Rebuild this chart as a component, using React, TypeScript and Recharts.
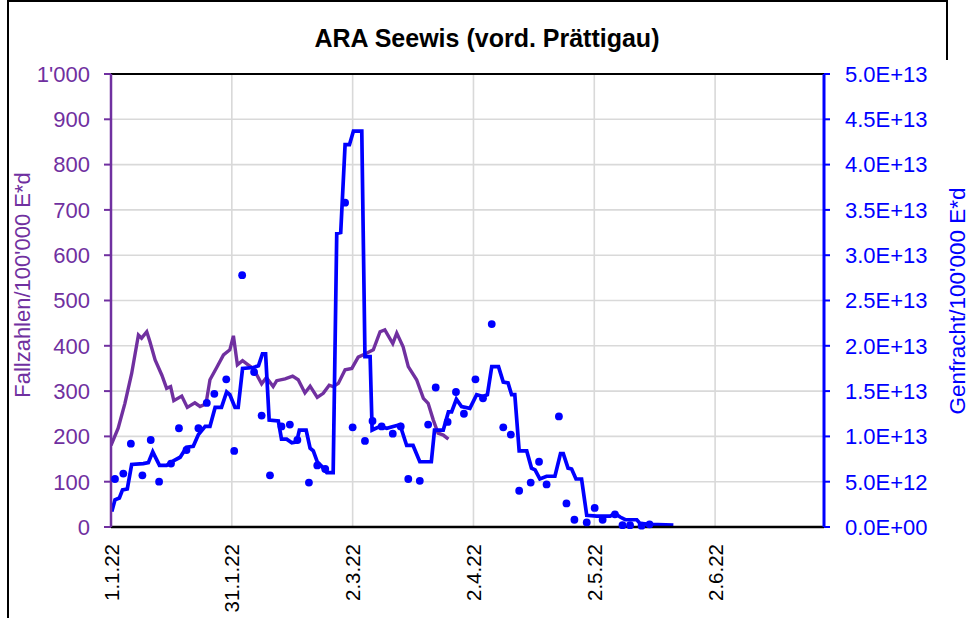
import React from 'react';
import {
  ComposedChart,
  Line,
  Scatter,
  XAxis,
  YAxis,
  CartesianGrid,
  ReferenceLine,
} from 'recharts';

// x values are days since 1.1.22
const xTickDays = [0, 30.4, 60.8, 91.2, 121.6, 152];
const xTickLabels = ['1.1.22', '31.1.22', '2.3.22', '2.4.22', '2.5.22', '2.6.22'];
const leftTicks = [0, 100, 200, 300, 400, 500, 600, 700, 800, 900, 1000];
const rightTicks = [0, 5e12, 1e13, 1.5e13, 2e13, 2.5e13, 3e13, 3.5e13, 4e13, 4.5e13, 5e13];

// Fallzahlen/100'000 E*d (left axis)
const fallzahlen: [number, number][] = [
  [0, 180], [1.8, 218], [3.5, 273], [5.2, 339], [6.9, 424], [7.7, 417], [9, 431],
  [9.8, 409], [11.1, 369], [12.8, 335], [14, 306], [15, 310], [15.8, 279], [17.8, 289],
  [19.2, 264], [21.1, 274], [22.4, 266], [23.9, 272], [24.9, 325], [26.6, 352],
  [28.3, 380], [29.9, 391], [30.8, 422], [31.8, 358], [33.1, 367], [34.5, 358],
  [35.8, 350], [37.9, 316], [39.1, 330], [40.8, 310], [41.7, 323], [43.8, 327],
  [45.7, 333], [47.1, 325], [48.8, 296], [50.1, 311], [51.9, 286], [53.4, 295],
  [54.9, 313], [55.9, 310], [57.2, 317], [58.9, 347], [60.6, 350], [62.2, 375],
  [63.9, 382], [66, 391], [67.7, 431], [68.9, 435], [70.9, 405], [71.9, 428],
  [73.5, 398], [74.8, 354], [76.9, 325], [78.6, 284], [79.8, 273], [81.1, 236],
  [82.3, 207], [83.6, 203], [84.9, 194],
];

// Genfracht/100'000 E*d, mean line (in units of 1E13)
const genfrachtMean: [number, number][] = [
  [0.2, 0.17], [1, 0.3], [2.1, 0.32], [2.9, 0.41], [4.1, 0.42], [5.2, 0.69], [8.1, 0.7],
  [9.4, 0.71], [10.5, 0.83], [12.2, 0.68], [14, 0.68], [15.7, 0.73], [17.4, 0.77],
  [19, 0.88], [20.7, 0.89], [22, 1.02], [23.7, 1.11], [24.9, 1.11], [26.2, 1.32],
  [27.8, 1.32], [29.1, 1.49], [29.9, 1.46], [31.2, 1.32], [32, 1.32], [33.1, 1.75],
  [35.8, 1.76], [37.1, 1.78], [38.1, 1.91], [38.9, 1.91], [39.8, 1.18], [42.1, 1.17],
  [42.9, 0.97], [44.2, 0.97], [45.5, 0.93], [46.7, 0.94], [47.4, 1.07], [49.1, 1.07],
  [50.1, 0.87], [50.9, 0.84], [51.9, 0.72], [53, 0.67], [54.3, 0.6], [55.9, 0.6],
  [56.8, 3.24], [57.8, 3.25], [58.9, 4.22], [60, 4.22], [61, 4.37], [63.1, 4.37],
  [63.9, 1.88], [65.2, 1.88], [65.7, 1.07], [67.7, 1.11], [69.4, 1.09], [71, 1.11],
  [72.7, 1.13], [74.4, 0.9], [76, 0.9], [77.7, 0.72], [80.6, 0.72], [81.4, 1.07],
  [83.6, 1.07], [84.9, 1.27], [85.7, 1.27], [86.9, 1.41], [88.2, 1.33], [90.3, 1.31],
  [92, 1.46], [93.6, 1.44], [94.7, 1.46], [95.8, 1.77], [97.5, 1.77], [98.7, 1.6],
  [99.9, 1.59], [100.8, 1.46], [101.6, 1.46], [102.7, 0.84], [104.6, 0.84],
  [105.8, 0.65], [106.7, 0.63], [107.9, 0.53], [109.6, 0.56], [111.7, 0.56],
  [113.1, 0.81], [113.8, 0.81], [115, 0.65], [115.9, 0.64], [117, 0.53], [118.4, 0.53],
  [119.7, 0.13], [122.2, 0.12], [125.6, 0.12], [126.8, 0.15], [128.1, 0.11],
  [129.4, 0.08], [132.3, 0.08], [133.1, 0.04], [135.6, 0.03], [141.5, 0.02],
];

// Genfracht daily measurements (in units of 1E13)
const genfrachtDaily: [number, number][] = [
  [1, 0.53], [3.1, 0.59], [5, 0.92], [7.9, 0.57], [10, 0.96], [12.1, 0.5], [15.1, 0.7],
  [17.1, 1.09], [19, 0.85], [22, 1.09], [24.1, 1.37], [26, 1.47], [29, 1.63], [31, 0.84],
  [33, 2.78], [36, 1.71], [37.9, 1.23], [40, 0.57], [42.9, 1.11], [45, 1.13],
  [46.9, 0.96], [49.8, 0.49], [51.9, 0.68], [53.9, 0.64], [58.9, 3.58], [60.8, 1.1],
  [63.9, 0.95], [65.8, 1.17], [68.1, 1.11], [70.9, 1.03], [72.9, 1.11], [74.8, 0.53],
  [77.7, 0.51], [79.8, 1.13], [81.7, 1.54], [84.7, 1.16], [86.8, 1.49], [88.8, 1.25],
  [91.7, 1.63], [93.6, 1.42], [95.8, 2.24], [98.7, 1.1], [100.6, 1.02], [102.7, 0.4],
  [105.6, 0.49], [107.7, 0.72], [109.6, 0.47], [112.7, 1.22], [114.6, 0.26],
  [116.6, 0.08], [119.7, 0.05], [121.7, 0.21], [123.7, 0.08], [126.8, 0.14],
  [128.7, 0.02], [130.6, 0.02], [133.5, 0.015], [135.5, 0.03],
];

const PURPLE = '#7030a0';
const BLUE = '#0000ff';
const FONT = '"Liberation Sans", Arial, sans-serif';

const fallData = fallzahlen.map(([day, v]) => ({ day, v }));
const meanData = genfrachtMean.map(([day, v]) => ({ day, v: v * 1e13 }));
const dailyData = genfrachtDaily.map(([day, v]) => ({ day, v: v * 1e13 }));

const fmtLeft = (v: number) => (v >= 1000 ? "1'000" : String(v));
const fmtRight = (v: number) => {
  const [m, e] = v.toExponential(1).split('e');
  const sign = e.startsWith('-') ? '-' : '+';
  const digits = e.replace(/[+-]/, '').padStart(2, '0');
  return `${m}E${sign}${digits}`;
};

const XTick = ({ x, y, payload }: any) => {
  const idx = xTickDays.indexOf(payload.value);
  const ty = y + 9;
  return (
    <text
      x={x}
      y={ty}
      transform={`rotate(-90 ${x} ${ty})`}
      textAnchor="end"
      dominantBaseline="central"
      fontSize={20.5}
      fontFamily={FONT}
      fill="#000"
    >
      {xTickLabels[idx] ?? ''}
    </text>
  );
};

export default function App() {
  return (
    <div style={{ position: 'absolute', left: 0, top: 0, width: 971, height: 618, background: '#fff' }}>
      <ComposedChart
        width={971}
        height={618}
        margin={{ top: 74, right: 0, left: 0, bottom: 0 }}
      >
        <CartesianGrid yAxisId="left" stroke="#d9d9d9" strokeWidth={1.6} />
        <XAxis
          type="number"
          dataKey="day"
          domain={[0, 179.4]}
          ticks={xTickDays}
          allowDataOverflow
          height={91}
          tickLine={false}
          axisLine={{ stroke: '#000', strokeWidth: 2.5 }}
          tick={<XTick />}
          interval={0}
        />
        <YAxis
          yAxisId="left"
          domain={[0, 1000]}
          ticks={leftTicks}
          width={111}
          tickSize={7}
          tickMargin={14}
          tickFormatter={fmtLeft}
          axisLine={{ stroke: PURPLE, strokeWidth: 2.5 }}
          tickLine={{ stroke: PURPLE, strokeWidth: 2 }}
          tick={{ fill: PURPLE, fontSize: 22, fontFamily: FONT }}
          interval={0}
        />
        <YAxis
          yAxisId="right"
          orientation="right"
          domain={[0, 5e13]}
          ticks={rightTicks}
          width={147}
          tickSize={6}
          tickMargin={15}
          tickFormatter={fmtRight}
          axisLine={{ stroke: BLUE, strokeWidth: 3 }}
          tickLine={{ stroke: BLUE, strokeWidth: 2 }}
          tick={{ fill: BLUE, fontSize: 22, fontFamily: FONT }}
          interval={0}
        />
        <ReferenceLine yAxisId="left" y={1000} stroke="#000" strokeWidth={2} />
        <Line
          yAxisId="left"
          data={fallData}
          dataKey="v"
          type="linear"
          stroke={PURPLE}
          strokeWidth={3.4}
          dot={false}
          isAnimationActive={false}
        />
        <Line
          yAxisId="right"
          data={meanData}
          dataKey="v"
          type="linear"
          stroke={BLUE}
          strokeWidth={3.7}
          dot={false}
          isAnimationActive={false}
        />
        <Scatter
          yAxisId="right"
          data={dailyData}
          dataKey="v"
          fill={BLUE}
          isAnimationActive={false}
          shape={(p: any) => <circle cx={p.cx} cy={p.cy} r={3.9} fill={BLUE} />}
        />
      </ComposedChart>
      <svg
        width={971}
        height={618}
        style={{ position: 'absolute', left: 0, top: 0, pointerEvents: 'none' }}
      >
        <line x1={8} y1={0} x2={8} y2={618} stroke="#000" strokeWidth={2} />
        <line x1={8} y1={1} x2={947} y2={1} stroke="#000" strokeWidth={2} />
        <line x1={947} y1={0} x2={947} y2={60} stroke="#000" strokeWidth={2} />
        <text
          x={487}
          y={38}
          textAnchor="middle"
          dominantBaseline="central"
          fontSize={25}
          fontWeight="bold"
          fontFamily={FONT}
          fill="#000"
        >
          ARA Seewis (vord. Prättigau)
        </text>
        <text
          x={22}
          y={285}
          transform="rotate(-90 22 285)"
          textAnchor="middle"
          dominantBaseline="central"
          fontSize={22}
          fontFamily={FONT}
          fill={PURPLE}
        >
          Fallzahlen/100'000 E*d
        </text>
        <text
          x={957}
          y={301}
          transform="rotate(-90 957 301)"
          textAnchor="middle"
          dominantBaseline="central"
          fontSize={22.5}
          fontFamily={FONT}
          fill={BLUE}
        >
          Genfracht/100'000 E*d
        </text>
      </svg>
    </div>
  );
}
